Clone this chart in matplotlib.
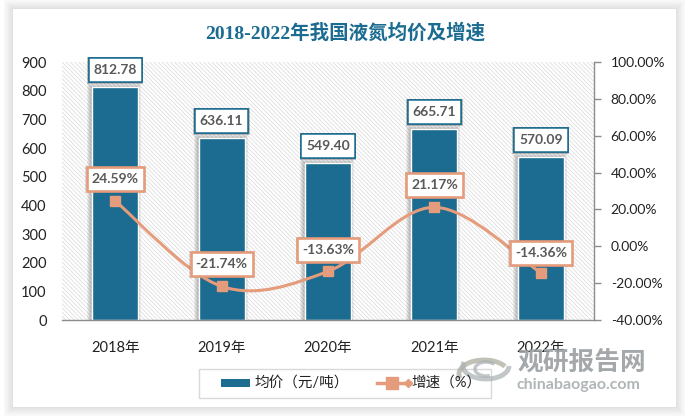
"""Liquid ammonia average price and growth, 2018-2022."""

import matplotlib

matplotlib.use("Agg")
import matplotlib.pyplot as plt
import numpy as np
from matplotlib.patches import Arc, PathPatch, Rectangle
from matplotlib.path import Path
from matplotlib.transforms import IdentityTransform

plt.rcParams["font.family"] = ["Lato", "Noto Sans CJK SC", "DejaVu Sans"]
plt.rcParams["hatch.linewidth"] = 0.6

years = ["2018年", "2019年", "2020年", "2021年", "2022年"]
prices = [812.78, 636.11, 549.40, 665.71, 570.09]
growth = [24.59, -21.74, -13.63, 21.17, -14.36]
price_ticks = [0, 100, 200, 300, 400, 500, 600, 700, 800, 900]
growth_ticks = [-40, -20, 0, 20, 40, 60, 80, 100]

W, H = 688, 418
BLUE = "#1B6C90"
SALMON = "#E59C7C"
TEXT = "#595959"
CJK = ["Lato", "Noto Sans CJK SC", "DejaVu Sans"]


def smooth_path(xs, ys):
    # same kind of smoothing as an office chart line, bezier through the points
    xs, ys = np.asarray(xs, float), np.asarray(ys, float)
    verts = [(xs[0], ys[0])]
    codes = [Path.MOVETO]
    for i in range(len(xs) - 1):
        a = max(i - 1, 0)
        d = min(i + 2, len(xs) - 1)
        c1 = (xs[i] + (xs[i + 1] - xs[a]) / 6, ys[i] + (ys[i + 1] - ys[a]) / 6)
        c2 = (xs[i + 1] - (xs[d] - xs[i]) / 6, ys[i + 1] - (ys[d] - ys[i]) / 6)
        verts += [c1, c2, (xs[i + 1], ys[i + 1])]
        codes += [Path.CURVE4] * 3
    return Path(verts, codes)


def boxed_label(axis, xv, yv, text, dy, edge, lw):
    # fixed-height box in pixels, width follows the text
    cx, cy = axis.transData.transform((xv, yv))
    cy += dy
    t = axis.text(cx, cy, text, transform=IdentityTransform(), ha="center", va="center", fontsize=10,
                  fontweight="bold", color=TEXT, zorder=8)
    w = t.get_window_extent(fig.canvas.get_renderer()).width + 10
    h = 24
    axis.add_patch(Rectangle((cx - w / 2 - 1.5, cy - h / 2 - 2), w + 3, h + 3, transform=IdentityTransform(),
                             fc="black", alpha=0.12, ec="none", zorder=6, clip_on=False))
    axis.add_patch(Rectangle((cx - w / 2, cy - h / 2), w, h, transform=IdentityTransform(),
                             fc="white", ec=edge, lw=lw, zorder=7, clip_on=False))


fig = plt.figure(figsize=(W / 100, H / 100), dpi=100, facecolor="white")

# card with a soft grey shadow, drawn on a full-figure pixel axes
bg = fig.add_axes([0, 0, 1, 1], zorder=0)
bg.set_xlim(0, W)
bg.set_ylim(H, 0)
bg.axis("off")
for grow, shade in zip([9, 7, 5, 3, 1], ["#F8F8F8", "#F2F2F2", "#ECECEC", "#E6E6E6", "#E0E0E0"]):
    bg.add_patch(Rectangle((13 - grow, 9 - grow), 663 + 2 * grow, 398 + 2 * grow, fc=shade, ec="none"))
bg.add_patch(Rectangle((13, 9), 663, 398, fc="white", ec="none"))

left, right, top, bottom = 62, 594, 62, 320
ax = fig.add_axes([left / W, 1 - bottom / H, (right - left) / W, (bottom - top) / H], zorder=1)
ax.patch.set_facecolor("white")
ax.add_patch(Rectangle((0, 0), 1, 1, transform=ax.transAxes, fc="white", ec="#DEDEDE", lw=0, hatch="\\\\\\\\\\\\\\\\", zorder=0))

x = np.arange(len(years))
ax.set_xlim(-0.5, 4.5)
ax.set_ylim(0, 900)

# blurred shadow: stacked translucent bars, 1 px of category is 1/106.4
px_x = 1 / 106.4
px_y = 900 / 258
bar_w = 46 * px_x
for grow in [4, 3, 2, 1]:
    ax.bar(x - px_x, np.array(prices) + grow * px_y, width=bar_w + 2 * grow * px_x, color="black", alpha=0.06, lw=0, zorder=1)
ax.bar(x, prices, width=bar_w, color=BLUE, edgecolor="white", linewidth=1.0, zorder=2)

ax.set_xticks(x, years, fontsize=10.5, color="#222222")
ax.set_yticks(price_ticks)
ax.tick_params(axis="x", length=0, pad=15)
ax.tick_params(axis="y", length=0, labelsize=10.5, labelcolor="#222222", pad=11)
for s in ["top", "right", "left"]:
    ax.spines[s].set_visible(False)
ax.spines["bottom"].set_color("#8C8C8C")
ax.spines["bottom"].set_linewidth(1.0)

ax2 = ax.twinx()
ax2.set_zorder(3)
ax2.set_ylim(-40, 100)
ax2.set_yticks(growth_ticks, [f"{v:.2f}%" for v in growth_ticks])
ax2.tick_params(axis="y", length=5, width=1, color="#8C8C8C", labelsize=10, labelcolor="#222222", pad=7)
for s in ["top", "left", "bottom"]:
    ax2.spines[s].set_visible(False)
ax2.spines["right"].set_color("#8C8C8C")
ax2.spines["right"].set_linewidth(1.0)

ax2.add_patch(PathPatch(smooth_path(x, growth), fc="none", ec=SALMON, lw=2.2, zorder=4))
ax2.plot(x, growth, ls="none", marker="s", ms=7.5, color=SALMON, zorder=5)

for i, v in zip(x, prices):
    boxed_label(ax, i, v, f"{v:.2f}", 17, BLUE, 1.1)
    ax.texts[-1].remove()
    boxed_label(ax2, i, v / 900 * 140 - 40, f"{v:.2f}", 17, BLUE, 1.1)
label_dy = [22, 22, 21, 22, 20]
for i, v, dy in zip(x, growth, label_dy):
    boxed_label(ax2, i, v, f"{v:.2f}%", dy, SALMON, 1.9)

fig.text(345 / W, 1 - 33 / H, "2018-2022年我国液氮均价及增速", ha="center", va="center", fontsize=14,
         fontweight="bold", color=BLUE, family=["Liberation Serif", "Noto Sans CJK SC"], zorder=5)

# legend is laid out by hand to keep the wide boxed spacing
top_ax = fig.add_axes([0, 0, 1, 1], zorder=6)
top_ax.set_xlim(0, W)
top_ax.set_ylim(H, 0)
top_ax.axis("off")
top_ax.add_patch(Rectangle((198.5, 368.5), 292, 29, fc="white", ec="#D9D9D9", lw=1))
top_ax.add_patch(Rectangle((221, 379), 29, 8, fc=BLUE, ec="none"))
top_ax.text(254, 383, "均价（元/吨）", fontsize=10.5, color="#222222", va="center", family=CJK)
top_ax.plot([377, 410], [383, 383], color=SALMON, lw=2.5)
top_ax.plot([392], [383], marker="s", ms=8, color=SALMON)
top_ax.plot([408], [383], marker="D", ms=4, color=SALMON)
top_ax.text(411, 383, "增速（%）", fontsize=10.5, color="#222222", va="center", family=CJK)

# watermark
top_ax.text(582, 362, "观研报告网", fontsize=18.5, fontweight="bold", color="#9A9FA1", ha="center", va="center",
            alpha=0.9, family=["Noto Sans CJK SC"])
top_ax.text(578, 385.5, "chinabaogao.com", fontsize=11.5, fontweight="bold", color="#A8ADAF", ha="center", va="center",
            alpha=0.9)
top_ax.add_patch(Arc((484, 374), 50, 28, theta1=170, theta2=340, color="#A9A79B", lw=3.5, alpha=0.7))
top_ax.add_patch(Arc((486, 366), 46, 26, theta1=0, theta2=190, color="#A8B0B2", lw=3.5, alpha=0.7))
top_ax.add_patch(Arc((486, 369), 22, 14, theta1=60, theta2=330, color="#A8B0B2", lw=2.5, alpha=0.7))

fig.savefig("out.png", dpi=100)
